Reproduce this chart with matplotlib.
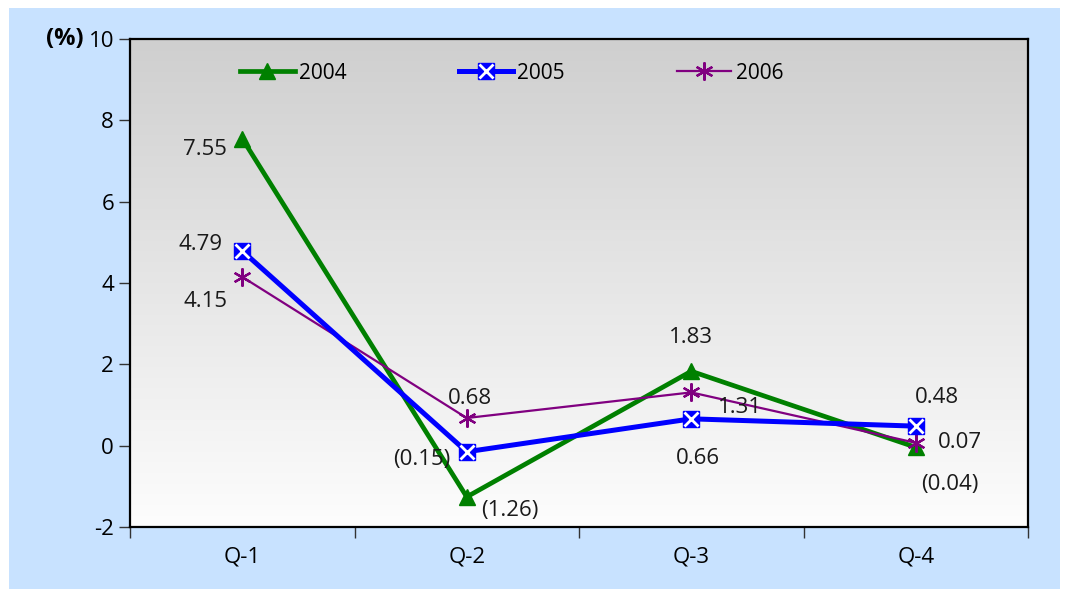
import numpy as np
import matplotlib
matplotlib.use('Agg')
import matplotlib.pyplot as plt
from matplotlib.colors import LinearSegmentedColormap
from matplotlib.patches import Rectangle
from matplotlib.legend_handler import HandlerTuple

plt.rcParams['font.family'] = ['Open Sans', 'DejaVu Sans']
plt.rcParams['axes.unicode_minus'] = False

quarters = ['Q-1', 'Q-2', 'Q-3', 'Q-4']
y2004 = [7.55, -1.26, 1.83, -0.04]
y2005 = [4.79, -0.15, 0.66, 0.48]
y2006 = [4.15, 0.68, 1.31, 0.07]

# label offsets in pixels (dx, dy) for each point
off2004 = [(-37, -11), (43, -14), (0, 34), (34, -37)]
off2005 = [(-42, 6), (-45, -8), (7, -40), (21, 29)]
off2006 = [(-37, -25), (3, 20), (49, -15), (44, 0)]


def fmt(v):
    return '(%.2f)' % abs(v) if v < 0 else '%.2f' % v


fig = plt.figure(figsize=(10.66, 5.89), dpi=100)
fig.patch.set_facecolor('white')
fig.patches.append(Rectangle((9 / 1066, 0), 1051 / 1066, 581 / 589,
                             transform=fig.transFigure, facecolor='#C8E2FF',
                             edgecolor='none', zorder=-10))

ax = fig.add_axes([130 / 1066, 1 - 527 / 589, 898 / 1066, 488 / 589])
x = np.arange(1, 5)

# grey-to-white fill behind the lines
cmap = LinearSegmentedColormap.from_list('bg', ['#FDFDFD', '#CFCFCF'])
ax.imshow(np.linspace(0, 1, 256).reshape(-1, 1), extent=(0.5, 4.5, -2, 10),
          origin='lower', aspect='auto', cmap=cmap, zorder=0)

l04, = ax.plot(x, y2004, color='#008000', lw=3.4, marker='^', ms=11,
               zorder=3, label='2004')
l05, = ax.plot(x, y2005, color='#0000FF', lw=3.6, marker='s', ms=11,
               zorder=4, label='2005')
x05, = ax.plot(x, y2005, ls='none', marker='x', ms=10, mew=2,
               color='white', zorder=5)
l06, = ax.plot(x, y2006, color='#800080', lw=1.6, marker=(6, 2, 0), ms=13,
               mew=1.6, zorder=3, label='2006')

for ys, offs in ((y2004, off2004), (y2005, off2005), (y2006, off2006)):
    for xi, v, (dx, dy) in zip(x, ys, offs):
        ax.annotate(fmt(v), (xi, v), xytext=(dx, dy), textcoords='offset pixels',
                    ha='center', va='center', fontsize=16, color='#1a1a1a',
                    zorder=6)

ax.set_xlim(0.5, 4.5)
ax.set_ylim(-2, 10)
ax.set_yticks(range(-2, 11, 2))
ax.set_xticks(x)
ax.set_xticklabels(quarters)
ax.set_xticks(np.arange(0.5, 5, 1), minor=True)
ax.tick_params(axis='x', which='major', length=0, pad=14, labelsize=16)
ax.tick_params(axis='x', which='minor', length=8, width=1, color='#333333')
ax.tick_params(axis='y', length=8, width=1, color='#333333', labelsize=16)
for s in ax.spines.values():
    s.set_linewidth(1.6)
    s.set_color('black')

ax.annotate('(%)', (0, 10), xycoords=('axes fraction', 'data'),
            xytext=(-46, 0), textcoords='offset pixels', ha='right',
            va='center', fontsize=17, fontweight='bold', annotation_clip=False)

ax.legend(handles=[l04, (l05, x05), l06], labels=['2004', '2005', '2006'],
          handler_map={tuple: HandlerTuple(ndivide=1, pad=0)},
          loc='upper left', bbox_to_anchor=(0.102, 0.99), ncol=3,
          frameon=False, fontsize=15, handlelength=2.6, handletextpad=0.2,
          columnspacing=5.4)

fig.savefig('out.png', dpi=100)
